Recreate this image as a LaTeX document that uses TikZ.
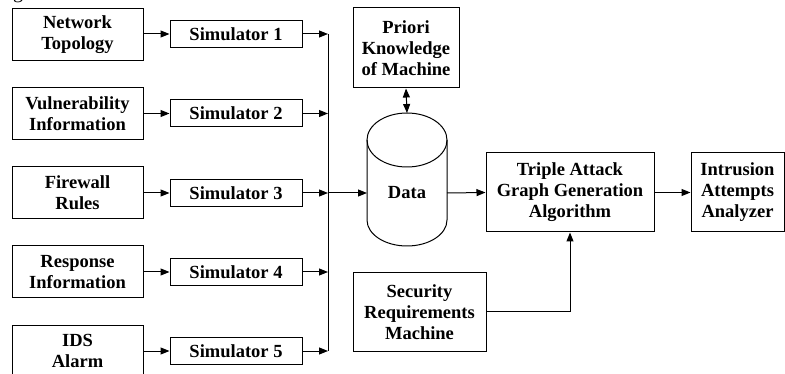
\documentclass[tikz,border=0pt]{standalone}
\usepackage{fontspec}
\setmainfont{Liberation Serif}
\usetikzlibrary{arrows.meta}
\tikzset{
  box/.style={draw, line width=1pt, align=center, inner sep=0pt,
    font=\fontsize{18.5}{21}\selectfont\bfseries},
  srcbox/.style={box, minimum width=131pt, minimum height=52pt},
  simbox/.style={box, minimum width=132pt, minimum height=27pt},
  link/.style={line width=1pt, -{Triangle[length=9pt,width=7pt]}},
  wire/.style={line width=1pt},
}
\begin{document}
\begin{tikzpicture}[x=1pt, y={(0pt,-1pt)}]
\useasboundingbox (0,0) rectangle (785,374);

% caption line above the figure (only its descender falls inside the page)
\node[anchor=base west, inner sep=0pt, font=\fontsize{20}{22}\selectfont] (cap) at (-3.7,-1.5) {Fig};

% input sources
\node[srcbox] (src1) at (77.5,35)  {Network\\Topology};
\node[srcbox] (src2) at (77.5,114) {Vulnerability\\Information};
\node[srcbox] (src3) at (77.5,193) {Firewall\\Rules};
\node[srcbox] (src4) at (77.5,272) {Response\\Information};
\node[srcbox] (src5) at (77.5,351) {IDS\\Alarm};

% simulators
\node[simbox] (sim1) at (236,34)  {Simulator 1};
\node[simbox] (sim2) at (236,113.5) {Simulator 2};
\node[simbox] (sim3) at (236,193) {Simulator 3};
\node[simbox] (sim4) at (236,272) {Simulator 4};
\node[simbox] (sim5) at (236,351) {Simulator 5};

\foreach \i in {1,...,5} {
  \draw[link] (src\i.east |- sim\i.west) -- (sim\i.west);
}

% collecting bus
\coordinate (bus1) at (328,34);
\coordinate (bus2) at (328,113.5);
\coordinate (bus3) at (328,193);
\coordinate (bus4) at (328,272);
\coordinate (bus5) at (328,351);
\foreach \i in {1,...,5} {
  \draw[link] (sim\i.east) -- (bus\i);
}
\draw[wire] (bus1) -- (bus5);

% data store (cylinder)
\coordinate (dataT) at (407,113);
\coordinate (dataL) at (367,193);
\coordinate (dataR) at (447,193);
\draw[wire] (407,140) ellipse [x radius=40, y radius=27];
\draw[wire] (367,140) -- (367,220) arc[start angle=180, end angle=0, x radius=40, y radius=26] -- (447,140);
\node[inner sep=0pt, font=\fontsize{18.5}{21}\selectfont\bfseries] (data) at (407,193) {Data};

\draw[link] (bus3) -- (dataL);

% prior knowledge
\node[box, minimum width=106pt, minimum height=80pt] (prio) at (406,48) {Priori\\Knowledge\\of Machine};
\draw[wire, {Triangle[length=9pt,width=7pt]}-{Triangle[length=9pt,width=7pt]}] (prio.south) -- (dataT);

% generation algorithm
\node[box, minimum width=168pt, minimum height=79pt] (tag) at (570,192.5) {Triple Attack\\Graph Generation\\Algorithm};
\draw[link] (dataR) -- (tag.west);

% analyzer
\node[box, minimum width=93pt, minimum height=79pt] (ana) at (737.5,192.5) {Intrusion\\Attempts\\Analyzer};
\draw[link] (tag.east) -- (ana.west);

% security requirements
\node[box, minimum width=133pt, minimum height=78pt] (sec) at (419.5,312) {Security\\Requirements\\Machine};
\draw[link] (sec.east) -| (tag.south);

\end{tikzpicture}
\end{document}
